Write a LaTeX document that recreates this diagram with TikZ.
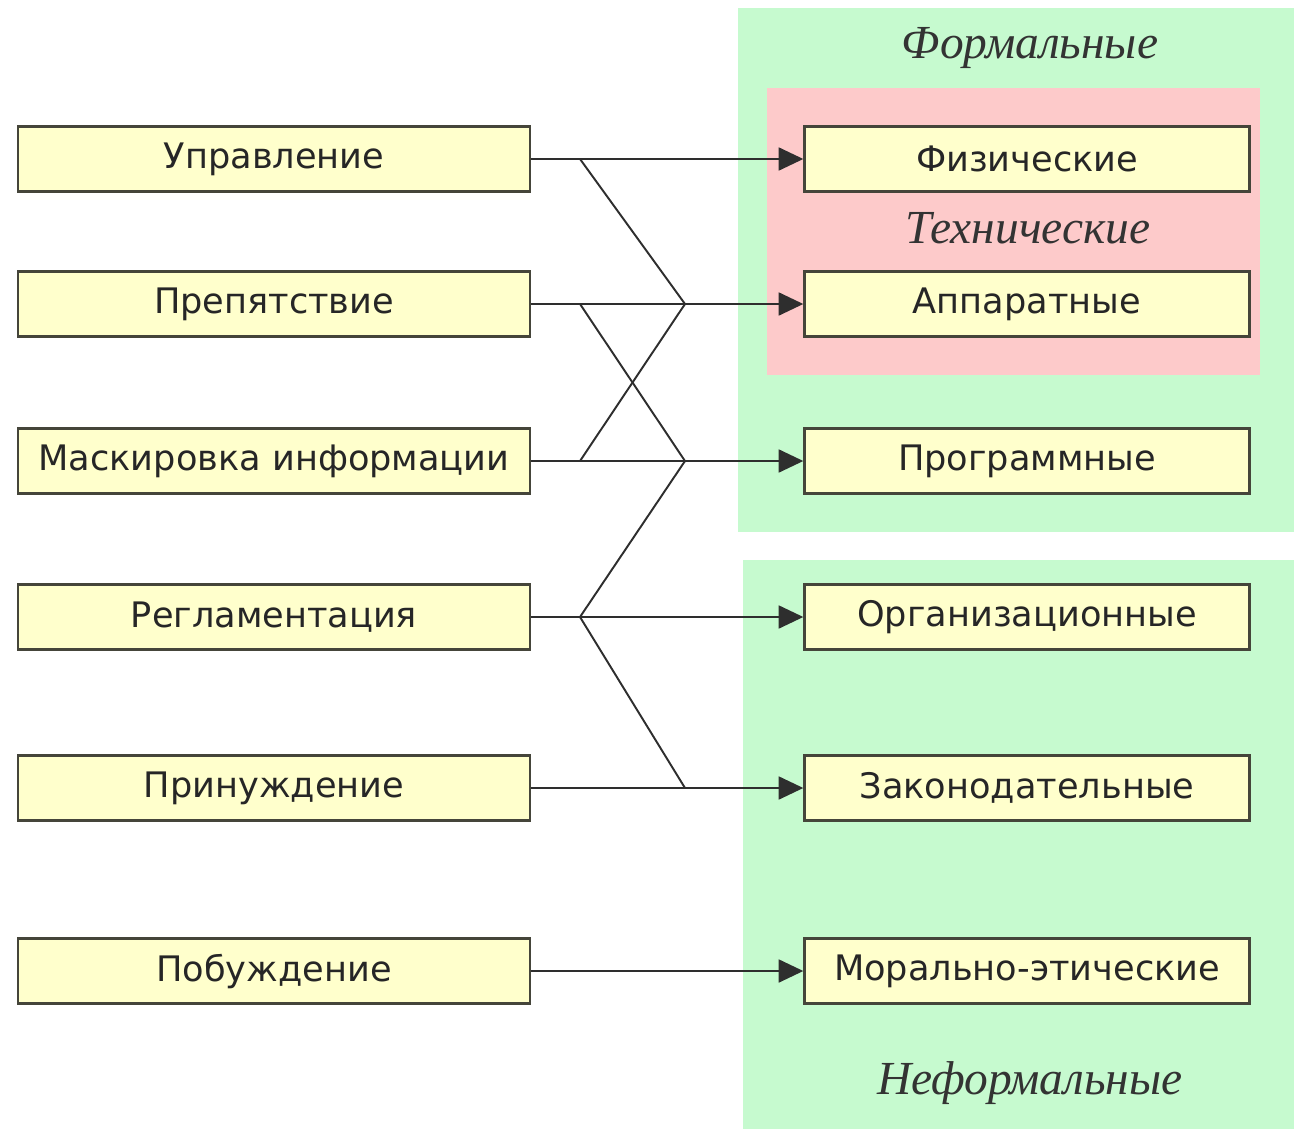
\documentclass[tikz,border=0pt]{standalone}
\usepackage{fontspec}
\setmainfont{DejaVu Sans}
\newfontfamily\groupfont{Liberation Serif}
\usetikzlibrary{arrows.meta}

\definecolor{boxfill}{HTML}{FFFFCC}
\definecolor{boxline}{HTML}{45453A}
\definecolor{formgreen}{HTML}{C6FACF}
\definecolor{techred}{HTML}{FDCACA}
\definecolor{linegray}{HTML}{2E2E2E}

\begin{document}
\begin{tikzpicture}[x=0.02cm, y=-0.02cm,
    box/.style={draw=boxline, fill=boxfill, line width=1.4pt, minimum height=1.3cm, inner sep=0pt, text=black!85, font=\fontsize{20}{23}\selectfont},
    leftbox/.style={box, minimum width=10.24cm},
    rightbox/.style={box, minimum width=8.9cm},
    conn/.style={draw=linegray, line width=1.1pt},
    arr/.style={conn, line width=1.3pt, -{Triangle[length=14pt,width=13pt]}},
    grouplabel/.style={font=\groupfont\itshape\fontsize{27}{30}\selectfont, text=black!80}]
        \useasboundingbox (0,0) rectangle (1294,1129);

        % Draw the group backgrounds
        \fill[formgreen] (738,8) rectangle (1294,532);
        \fill[techred] (767,88) rectangle (1260,375);
        \fill[formgreen] (743,560) rectangle (1294,1129);

        \node[grouplabel] (formal) at (1030,48) {Формальные};
        \node[grouplabel] (tech) at (1028,228) {Технические};
        \node[grouplabel] (informal) at (1030,1083) {Неформальные};

        % Draw the methods on the left
        \node[leftbox] (upr) at (274,159) {Управление};
        \node[leftbox] (prep) at (274,304) {Препятствие};
        \node[leftbox] (mask) at (274,461) {Маскировка информации};
        \node[leftbox] (regl) at (274,617) {Регламентация};
        \node[leftbox] (prin) at (274,788) {Принуждение};
        \node[leftbox] (pob) at (274,971) {Побуждение};

        % Draw the means on the right
        \node[rightbox] (fiz) at (1027,159) {Физические};
        \node[rightbox] (app) at (1027,304) {Аппаратные};
        \node[rightbox] (prog) at (1027,461) {Программные};
        \node[rightbox] (org) at (1027,617) {Организационные};
        \node[rightbox] (zak) at (1027,788) {Законодательные};
        \node[rightbox] (mor) at (1027,971) {Морально-этические};

        % Junction columns
        \coordinate (jl) at (580,0);
        \coordinate (jr) at (685,0);

        % Draw the straight arrows
        \draw[arr] (upr.east) -- (fiz.west);
        \draw[arr] (prep.east) -- (app.west);
        \draw[arr] (mask.east) -- (prog.west);
        \draw[arr] (regl.east) -- (org.west);
        \draw[arr] (prin.east) -- (zak.west);
        \draw[arr] (pob.east) -- (mor.west);

        % Draw the crossing links
        \draw[conn] (upr.east -| jl) -- (app.west -| jr);
        \draw[conn] (prep.east -| jl) -- (prog.west -| jr);
        \draw[conn] (mask.east -| jl) -- (app.west -| jr);
        \draw[conn] (regl.east -| jl) -- (prog.west -| jr);
        \draw[conn] (regl.east -| jl) -- (zak.west -| jr);

    \end{tikzpicture}
\end{document}
